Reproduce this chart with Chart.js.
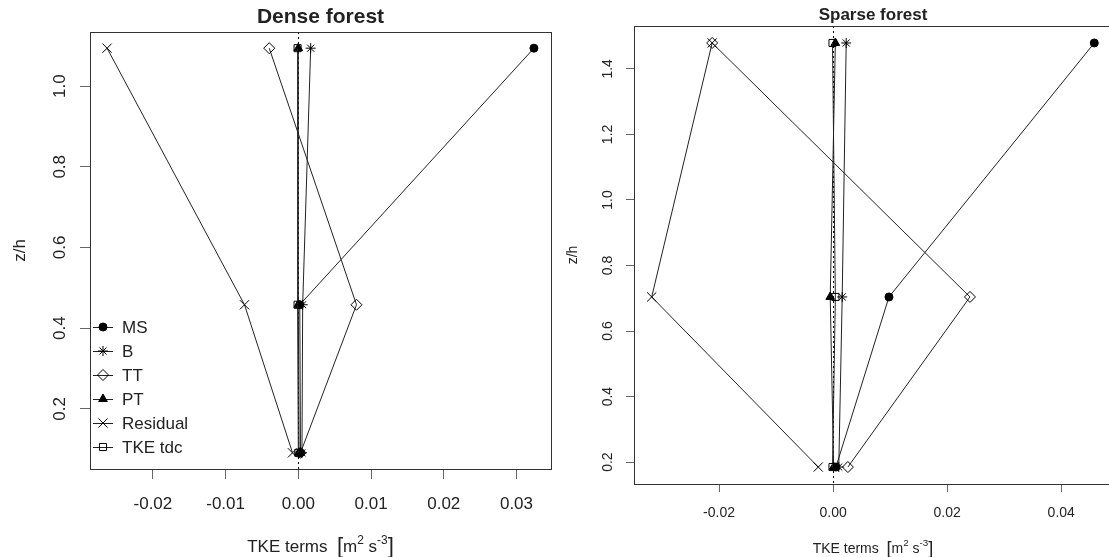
<!DOCTYPE html>
<html>
<head>
<meta charset="utf-8">
<script src="https://cdn.jsdelivr.net/npm/chart.js@4.4.1/dist/chart.umd.min.js"></script>
<style>
  html, body { margin: 0; padding: 0; background: #fff; overflow: hidden; }
  #wrap { position: relative; width: 1109px; height: 557px; overflow: hidden; }
  canvas { position: absolute; top: 0; }
  #dense { left: 0; }
  #sparse { left: 560px; }
</style>
</head>
<body>
<div id="wrap">
  <canvas id="dense" width="560" height="557"></canvas>
  <canvas id="sparse" width="560" height="557"></canvas>
</div>
<script>
// TKE budget terms against normalised height, dense and sparse stands
const seriesNames = ['MS', 'B', 'TT', 'PT', 'Residual', 'TKE tdc'];

// Dense forest
const zDense   = [0.091, 0.458, 1.094];
const msDense  = [0.0003, 0.0002, 0.0324];
const bDense   = [0.0005, 0.0006, 0.0017];
const ttDense  = [0.0003, 0.0080, -0.0040];
const ptDense  = [0.0001, 0.0000, 0.0000];
const resDense = [-0.0008, -0.0074, -0.0263];
const tdcDense = [0.0000, -0.0001, -0.0001];

// Sparse forest
const zSparse   = [0.185, 0.704, 1.479];
const msSparse  = [0.0005, 0.0098, 0.0458];
const bSparse   = [0.0010, 0.0016, 0.0023];
const ttSparse  = [0.0026, 0.0240, -0.0212];
const ptSparse  = [0.0001, -0.0005, 0.0004];
const resSparse = [-0.0026, -0.0318, -0.0212];
const tdcSparse = [-0.0001, 0.0004, -0.0001];

// axis ticks
const xTicksDense  = [-0.02, -0.01, 0, 0.01, 0.02, 0.03];
const yTicksDense  = [0.2, 0.4, 0.6, 0.8, 1.0];
const xTicksSparse = [-0.02, 0, 0.02, 0.04];
const yTicksSparse = [0.2, 0.4, 0.6, 0.8, 1.0, 1.2, 1.4];

const FONT = '"Liberation Sans", Arial, sans-serif';

// markers in the spirit of R's pch 16, 8, 5, 17, 4, 0
const markers = [
  { pointStyle: 'circle',   radius: 4,   fill: '#000' },
  { pointStyle: 'star',     radius: 5,   fill: 'rgba(0,0,0,0)' },
  { pointStyle: 'rectRot',  radius: 5.5, fill: 'rgba(0,0,0,0)' },
  { pointStyle: 'triangle', radius: 5,   fill: '#000' },
  { pointStyle: 'crossRot', radius: 6.5, fill: 'rgba(0,0,0,0)' },
  { pointStyle: 'rect',     radius: 5,   fill: 'rgba(0,0,0,0)' }
];

// R-like axis range: data range widened by 4% each side
function rRange(arrays) {
  const all = [].concat(...arrays);
  const lo = Math.min(...all), hi = Math.max(...all);
  const pad = (hi - lo) * 0.04;
  return [lo - pad, hi + pad];
}

function buildDatasets(z, cols) {
  return cols.map((vals, i) => ({
    label: seriesNames[i],
    data: vals.map((v, k) => ({ x: v, y: z[k] })),
    showLine: true,
    borderColor: '#222',
    borderWidth: 1,
    pointStyle: markers[i].pointStyle,
    pointRadius: markers[i].radius,
    pointBorderColor: '#000',
    pointBackgroundColor: markers[i].fill,
    pointBorderWidth: 1,
    order: cols.length - i
  }));
}

// x axis title with superscripts
function drawUnits(ctx, cx, baseY, size) {
  const parts = [
    { t: 'TKE terms  ', s: size, dy: 0 },
    { t: '[', s: size * 1.3, dy: size * 0.08 },
    { t: 'm', s: size, dy: 0 },
    { t: '2', s: size * 0.7, dy: -size * 0.5 },
    { t: ' s', s: size, dy: 0 },
    { t: '-3', s: size * 0.7, dy: -size * 0.5 },
    { t: ']', s: size * 1.3, dy: size * 0.08 }
  ];
  let w = 0;
  parts.forEach(p => { ctx.font = p.s + 'px ' + FONT; p.w = ctx.measureText(p.t).width; w += p.w; });
  let x = cx - w / 2;
  ctx.textAlign = 'left';
  ctx.textBaseline = 'alphabetic';
  parts.forEach(p => {
    ctx.font = p.s + 'px ' + FONT;
    ctx.fillText(p.t, x, baseY + p.dy);
    x += p.w;
  });
}

function framePlugin(cfg) {
  return {
    id: 'rFrame',
    beforeDatasetsDraw(chart) {
      const { ctx, chartArea: a, scales: { x } } = chart;
      const x0 = x.getPixelForValue(0);
      ctx.save();
      ctx.strokeStyle = '#000';
      ctx.lineWidth = 1;
      ctx.setLineDash([2, 3]);
      ctx.beginPath();
      ctx.moveTo(Math.round(x0) + 0.5, a.top);
      ctx.lineTo(Math.round(x0) + 0.5, a.bottom);
      ctx.stroke();
      ctx.restore();
    },
    afterDraw(chart) {
      const { ctx, chartArea: a, scales: { y } } = chart;
      ctx.save();
      // plot box
      ctx.strokeStyle = '#333';
      ctx.lineWidth = 1;
      ctx.strokeRect(Math.round(a.left) + 0.5, Math.round(a.top) + 0.5,
                     Math.round(a.right - a.left), Math.round(a.bottom - a.top));
      ctx.fillStyle = '#222';

      // y tick labels, rotated like R's default
      ctx.font = cfg.fontSize + 'px ' + FONT;
      ctx.textAlign = 'center';
      ctx.textBaseline = 'middle';
      y.ticks.forEach(t => {
        ctx.save();
        ctx.translate(a.left - cfg.yLabelOffset, y.getPixelForValue(t.value));
        ctx.rotate(-Math.PI / 2);
        ctx.fillText(t.value.toFixed(1), 0, 0);
        ctx.restore();
      });

      // y axis title
      ctx.save();
      ctx.translate(a.left - cfg.yTitleOffset, (a.top + a.bottom) / 2);
      ctx.rotate(-Math.PI / 2);
      ctx.fillText('z/h', 0, 0);
      ctx.restore();

      // main title
      ctx.font = 'bold ' + cfg.titleSize + 'px ' + FONT;
      ctx.textBaseline = 'alphabetic';
      ctx.fillText(cfg.title, (a.left + a.right) / 2, cfg.titleBase);

      // x axis title
      drawUnits(ctx, (a.left + a.right) / 2, cfg.unitsBase, cfg.fontSize);

      // legend in the lower left corner
      if (cfg.legend) {
        const step = 24;
        const n = seriesNames.length;
        seriesNames.forEach((name, i) => {
          const ly = a.bottom - 22 - (n - 1 - i) * step;
          const lx = a.left + 3;
          ctx.strokeStyle = '#222';
          ctx.lineWidth = 1;
          ctx.beginPath();
          ctx.moveTo(lx, ly + 0.5);
          ctx.lineTo(lx + 20, ly + 0.5);
          ctx.stroke();
          ctx.strokeStyle = '#000';
          ctx.fillStyle = markers[i].fill;
          if (Chart.helpers && Chart.helpers.drawPoint) {
            Chart.helpers.drawPoint(ctx, {
              pointStyle: markers[i].pointStyle, radius: markers[i].radius,
              rotation: 0, borderWidth: 1
            }, lx + 10, ly);
          }
          ctx.fillStyle = '#222';
          ctx.font = cfg.fontSize + 'px ' + FONT;
          ctx.textAlign = 'left';
          ctx.textBaseline = 'middle';
          ctx.fillText(name, lx + 29, ly + 1);
        });
      }
      ctx.restore();
    }
  };
}

function makePanel(id, z, cols, xTicks, yTicks, cfg) {
  const [xmin, xmax] = rRange(cols);
  const [ymin, ymax] = rRange([z]);
  return new Chart(document.getElementById(id), {
    type: 'scatter',
    data: { datasets: buildDatasets(z, cols) },
    options: {
      responsive: false,
      animation: false,
      events: [],
      layout: { padding: { top: cfg.padTop, right: cfg.padRight, left: 0, bottom: 0 } },
      plugins: { legend: { display: false }, tooltip: { enabled: false } },
      scales: {
        x: {
          type: 'linear', min: xmin, max: xmax,
          afterBuildTicks: s => { s.ticks = xTicks.map(v => ({ value: v })); },
          afterFit: s => { s.height = cfg.xAxisHeight; },
          grid: { drawOnChartArea: false, drawTicks: true, tickLength: cfg.tickLength, color: '#666' },
          border: { display: false },
          ticks: {
            padding: cfg.tickPad, color: '#222', autoSkip: false, maxRotation: 0,
            font: { family: FONT, size: cfg.fontSize },
            callback: v => v.toFixed(2)
          }
        },
        y: {
          type: 'linear', min: ymin, max: ymax,
          afterBuildTicks: s => { s.ticks = yTicks.map(v => ({ value: v })); },
          afterFit: s => { s.width = cfg.yAxisWidth; },
          grid: { drawOnChartArea: false, drawTicks: true, tickLength: cfg.tickLength, color: '#666' },
          border: { display: false },
          ticks: { display: false }
        }
      }
    },
    plugins: [framePlugin(cfg)]
  });
}

makePanel('dense', zDense,
  [msDense, bDense, ttDense, ptDense, resDense, tdcDense],
  xTicksDense, yTicksDense, {
    title: 'Dense forest', titleSize: 21, titleBase: 23,
    fontSize: 17, unitsBase: 552, legend: true,
    padTop: 32, padRight: 9, xAxisHeight: 88, yAxisWidth: 90,
    tickLength: 10, tickPad: 15, yLabelOffset: 30, yTitleOffset: 70
  });

makePanel('sparse', zSparse,
  [msSparse, bSparse, ttSparse, ptSparse, resSparse, tdcSparse],
  xTicksSparse, yTicksSparse, {
    title: 'Sparse forest', titleSize: 17, titleBase: 20,
    fontSize: 14, unitsBase: 553, legend: false,
    padTop: 26, padRight: 8, xAxisHeight: 73, yAxisWidth: 74,
    tickLength: 8, tickPad: 13, yLabelOffset: 26, yTitleOffset: 61
  });
</script>
</body>
</html>
